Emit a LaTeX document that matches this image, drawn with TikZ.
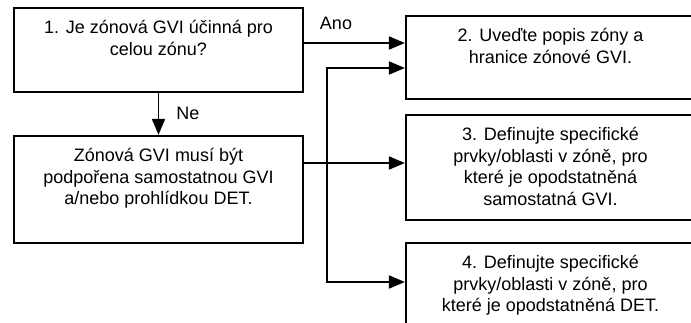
\documentclass[tikz,border=0pt]{standalone}
\usepackage{fontspec}
\setmainfont{Liberation Sans}
\usetikzlibrary{arrows.meta}

\def\trunk{327}

\begin{document}
\begin{tikzpicture}[x=1pt, y=-1pt, >={Triangle[length=16pt, width=13pt]}]

                \tikzstyle{box}  = [draw, line width=2.2pt, inner sep=0pt, minimum width=289pt]
                \tikzstyle{txt}  = [anchor=north, align=center, inner sep=0pt, font=\fontsize{18}{21.8}\selectfont, execute at begin node=\strut]
                \tikzstyle{conn} = [line width=1.8pt]
                \path [use as bounding box, clip] (0,0) rectangle (691,323);

                % left column
                \node [box, minimum height=84pt](b1) at (158.5, 50) {};
                \node [box, minimum height=107pt](bz) at (158.5, 189.5) {};
                \node [txt](t1) at ([yshift=-13pt]b1.north) {1. Je zónová GVI účinná pro\\celou zónu?};
                \node [txt](tz) at ([yshift=-13pt]bz.north) {Zónová GVI musí být\\podpořena samostatnou GVI\\a/nebo prohlídkou DET.};

                % right column, runs off the page
                \node [box, minimum height=83pt](b2) at (550.5, 57.5) {};
                \node [box, minimum height=105pt](b3) at (550.5, 167.5) {};
                \node [box, minimum height=105pt](b4) at (550.5, 295.5) {};
                \node [txt](t2) at ([yshift=-13pt]b2.north) {2. Uveďte popis zóny a\\hranice zónové GVI.};
                \node [txt](t3) at ([yshift=-13pt]b3.north) {3. Definujte specifické\\prvky/oblasti v zóně, pro\\které je opodstatněná\\samostatná GVI.};
                \node [txt](t4) at ([yshift=-13pt]b4.north) {4. Definujte specifické\\prvky/oblasti v zóně, pro\\které je opodstatněná DET.};

                \node [txt, anchor=center](ano) at (336, 25) {Ano};
                \node [txt, anchor=center](ne) at (188, 115) {Ne};

                \coordinate (k2) at (\trunk, 68);
                \coordinate (k4) at (\trunk, 282);

                \draw [conn, ->] (b1.east |- 0,43) -- (b2.west |- 0,43);
                \draw [conn, ->] (b1.south) -- (bz.north);
                \draw [conn, ->] (bz.east |- 0,163) -- (b3.west |- 0,163);
                \draw [conn, <->] (b2.west |- k2) -- (k2) -- (k4) -- (b4.west |- k4);
\end{tikzpicture}
\end{document}
